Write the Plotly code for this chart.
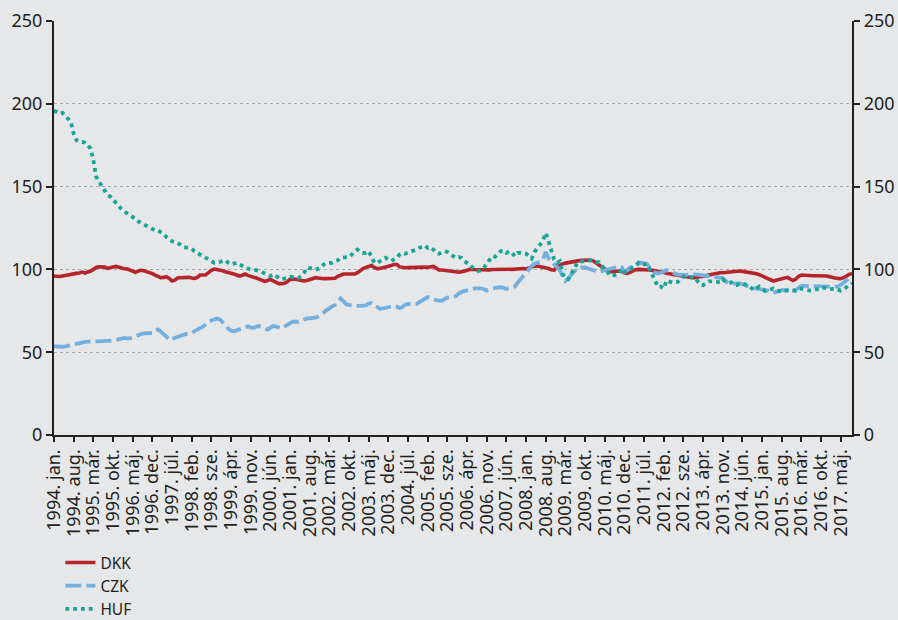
import plotly.graph_objects as go

month_names = ["jan.", "feb.", "már.", "ápr.", "máj.", "jún.", "júl.", "aug.", "sze.", "okt.", "nov.", "dec."]
start_year = 1994
tick_step = 7

dkk = [
    96, 95.8, 95.7, 96, 96.4, 96.8, 97.3, 97.6, 97.6, 97.8, 98.4, 97.8,
    98.3, 99, 100, 101.2, 101.6, 101.6, 101.4, 100.6, 100.8, 101.5, 101.8, 101.2,
    100.6, 100.4, 100.3, 99.5, 98.5, 98.2, 99, 99.5, 99.2, 98.7, 98.2, 97.5,
    96.6, 95.8, 95, 95.2, 95.6, 94.5, 93, 93.5, 94.8, 95, 95.1, 95.2,
    95.2, 94.8, 94.5, 95.2, 96.6, 96.6, 96.8, 98, 99.5, 100.2, 100, 99.6,
    99.2, 98.6, 98.3, 97.8, 97.2, 96.6, 96, 96.5, 97.2, 96.4, 95.6, 95.3,
    94.8, 94.2, 93.5, 92.8, 93.3, 94, 93, 92, 91.4, 91.4, 91.6, 92.5,
    94, 94.2, 94.2, 93.8, 93.3, 93, 93.3, 93.8, 94.5, 95, 94.8, 94.4,
    94.4, 94.4, 94.4, 94.4, 94.6, 95.8, 96.8, 97.2, 97.2, 97.2, 97.2, 97.3,
    98, 99.3, 100.5, 101.2, 102, 102.4, 101.2, 100.4, 100.6, 101, 101.3, 101.6,
    102.3, 103, 103, 101.5, 101, 101, 101.1, 101.2, 101.2, 101.3, 101.6, 101.8,
    101.4, 101.3, 101.7, 101.8, 100.8, 99.7, 99.6, 99.5, 99.3, 99.2, 99, 98.6,
    98.3, 98.4, 98.9, 99.5, 100, 99.9, 99.8, 99.7, 99.6, 99.6, 99.6, 99.7,
    99.9, 100, 100.2, 100.3, 100.4, 100.3, 100.1, 100, 100.2, 100.5, 100.8, 100.5,
    100.2, 100.8, 101.5, 102, 102, 101.7, 101.4, 101.1, 100.5, 99.8, 99.6, 101.5,
    102.6, 103.3, 103.8, 104.2, 104.5, 104.8, 105.1, 105.3, 105.5, 105.6, 105.7, 105.6,
    105, 104, 102.8, 101.5, 100.3, 99.3, 98.6, 98.8, 99, 99.2, 99, 98,
    97.6, 98.2, 99.2, 99.8, 100, 100, 100, 99.8, 99.6, 99.4, 99.2, 99,
    98.6, 98.2, 97.6, 97.3, 97, 96.6, 96.2, 95.8, 95.4, 95.2, 95.2, 95,
    95, 95.2, 95.5, 95.8, 96.2, 96.6, 97, 97.4, 97.8, 98, 98, 98.2,
    98.5, 98.8, 99.1, 99.2, 99, 98.8, 98.6, 98.3, 98, 97.8, 97.4, 96.8,
    96, 95.3, 94.3, 93.3, 93, 93.5, 94, 94.5, 95, 95.2, 94.2, 93.3,
    94.2, 95.8, 96.6, 96.4, 96.3, 96.2, 96.2, 96.2, 96.2, 96.2, 96.2, 96,
    95.6, 95, 94.8, 94.6, 94.4, 95, 96.2, 97, 97.5,
]

czk = [
    53.5, 53.3, 53.2, 53.3, 53.5, 53.8, 54.2, 54.7, 55, 55.4, 55.8, 56.2,
    56.4, 56.5, 56.5, 56.5, 56.5, 56.6, 56.6, 56.6, 56.7, 57, 57.2, 57.8,
    58.4, 58.6, 58.4, 58.2, 58.5, 59.5, 60.4, 61, 61.4, 61.5, 61.2, 61.6,
    63, 63.8, 62.5, 61.3, 59.5, 57.4, 58, 58.8, 59.4, 59.8, 60.5, 61,
    61.2, 61.5, 62.8, 63.6, 64.4, 65.4, 66.8, 68.4, 69.2, 69.8, 70.3, 69.8,
    68.5, 66.5, 64.2, 63, 62.6, 63.2, 63.8, 64.6, 65.4, 65.6, 65, 64.6,
    65.5, 65.8, 65.2, 64.4, 63.6, 64.8, 65.8, 65.5, 65, 64.4, 65.4, 66.4,
    67.5, 68.4, 68.4, 68.4, 69, 69.8, 70.4, 70.4, 70.5, 70.8, 71.5, 72.5,
    74, 75.4, 76.7, 77.7, 78.5, 80, 82.5, 80.3, 79, 78.6, 78.3, 78,
    78, 78, 78, 78.3, 79.4, 79.6, 78.4, 77.3, 76.2, 76.4, 76.9, 77.5,
    77.8, 78, 77.5, 76.7, 77.3, 78.6, 79.1, 79.1, 79.1, 79.1, 80.3, 81.5,
    82.4, 83.3, 83, 82.1, 81.4, 81.2, 81.1, 82, 83, 83.2, 83.5, 83.8,
    85.5, 86.5, 87, 87.3, 87.8, 88.3, 88.6, 88.6, 88.6, 88, 87.2, 87.8,
    88.5, 88.8, 89, 89.2, 88.8, 88.2, 88.6, 89.3, 89.6, 92, 94, 96.2,
    98.5, 100.6, 102, 103.4, 104, 104.5, 106, 110.5, 106.8, 105, 103.5, 101.8,
    99.5, 96, 93, 94.5, 96.6, 98.5, 99.8, 101, 101.2, 101.2, 100.5, 100,
    99.8, 99.2, 98.6, 99, 99.5, 99.8, 100.2, 100.8, 101.2, 101.7, 101.5, 98.5,
    99.5, 101.2, 101.5, 102, 103.5, 104, 103.6, 103.3, 101, 98.8, 98, 97.6,
    98, 98.5, 99.6, 99, 98, 97.5, 96.8, 96.6, 96.6, 96.6, 97, 97.2,
    97, 96.8, 96.6, 96.4, 96.2, 96, 95.8, 95.6, 95.6, 95.4, 94.8, 93,
    91.6, 91.4, 91.5, 91.6, 91.6, 91, 90.4, 89.8, 89.3, 88.6, 88.6, 88.3,
    87.8, 87.6, 87.2, 86.4, 85.8, 86.4, 87.2, 87.5, 87.4, 87.4, 87.5, 87.6,
    87.6, 88.8, 90, 90, 90, 90.1, 90.1, 90, 90, 90, 90, 89.8,
    89.6, 89.4, 89.5, 89.8, 90.6, 92, 93.5, 94.8, 96,
]

huf = [
    196, 195, 194, 194.5, 193, 191, 189, 182, 178, 177, 177, 176.5,
    175, 173, 166, 156, 153, 150, 147, 145, 144, 142, 140, 138.5,
    136.5, 135, 134, 133, 132, 130.5, 129, 128, 127, 126, 125, 124,
    123.5, 123.5, 122.5, 121.5, 119.5, 118, 117, 116.5, 116, 115, 113.5, 113,
    113, 112.5, 111, 110, 108.5, 107.5, 107, 105.5, 104.5, 104, 104, 104.5,
    104.5, 105.5, 104, 103, 103.5, 104, 103, 102, 101.5, 100.5, 100, 100,
    99.5, 99, 98.6, 97.5, 96.5, 96, 97, 96, 95, 94, 94.5, 95,
    95.5, 95.3, 95, 94.8, 96, 98, 101, 101, 100.5, 99.8, 100.5, 101,
    103, 104, 104, 104, 105, 105.5, 107, 107, 107, 107.5, 109, 111,
    112, 110.5, 110, 110, 111, 108, 104, 104, 105, 106.5, 107, 106,
    105, 106, 107, 109, 110, 109.5, 110, 111, 111.5, 112, 113, 114,
    114.5, 113, 113.5, 112, 110, 109.5, 110.5, 111, 110.5, 109, 108, 107,
    107.5, 107, 105, 104, 103, 101, 100, 99, 99.5, 101, 103.5, 106,
    108, 107.7, 109, 111, 111.5, 110, 111, 110, 108, 110, 110, 109.5,
    109.5, 108, 106.5, 110.5, 112.5, 115, 117.5, 122, 117, 112.3, 106, 104,
    105, 97.5, 94.5, 94, 97, 100.5, 103, 104.7, 105, 105.2, 105.7, 105.5,
    104.5, 104.3, 104.3, 102, 100.5, 98.5, 96.2, 96.5, 96.8, 97, 100.5, 98.5,
    99, 100, 101, 102, 104, 103, 103, 103.3, 100, 96, 92, 89.3,
    89.6, 88.5, 93.4, 92.5, 92, 92.2, 92.4, 94, 95.6, 95.6, 95.6, 95.4,
    95.2, 93, 91, 90.5, 92, 92.8, 92.8, 92.8, 92.5, 92.2, 94, 92.6,
    92, 92.2, 90.5, 90.5, 91.5, 91.5, 91, 90.4, 89, 87.6, 88.5, 89.6,
    88.5, 87, 87.5, 88, 88.4, 87.5, 87, 86.4, 87, 87.5, 87.6, 87.3,
    87, 87.7, 88.4, 88, 87.5, 87.2, 87.4, 87.6, 88.2, 88.8, 89, 88.5,
    88, 88.2, 88.4, 87.8, 87.2, 88, 89, 90.2, 91.6,
]

n = len(dkk)
idx = list(range(n))
labels = [f"{start_year + i // 12}. {month_names[i % 12]}" for i in idx]
tickvals = idx[::tick_step]
ticktext = labels[::tick_step]
ytickvals = [0, 50, 100, 150, 200, 250]

BG = "#E6E7E9"
AX = "#231F20"
FONT = "Noto Sans"

fig = go.Figure()
fig.add_trace(go.Scatter(x=idx, y=dkk, name="DKK", mode="lines",
                         line=dict(color="#B5252B", width=3.6)))
fig.add_trace(go.Scatter(x=idx, y=czk, name="CZK", mode="lines",
                         line=dict(color="#74AFDD", width=3.8, dash="16px,5px")))
fig.add_trace(go.Scatter(x=idx, y=huf, name="HUF", mode="lines",
                         line=dict(color="#17A595", width=3.8, dash="3.8px,4px")))
fig.add_trace(go.Scatter(x=[], y=[], yaxis="y2", showlegend=False, hoverinfo="skip"))

fig.update_layout(
    width=898, height=620,
    template="none",
    paper_bgcolor=BG, plot_bgcolor=BG,
    margin=dict(l=54, r=46, t=21, b=185, autoexpand=False),
    font=dict(family=FONT, size=18, color=AX),
    xaxis=dict(
        range=[0, n - 1], tickmode="array", tickvals=tickvals, ticktext=ticktext,
        tickangle=-90, ticks="outside", ticklen=5, tickwidth=1.5, tickcolor=AX,
        showline=True, linecolor=AX, linewidth=2.2, showgrid=False, zeroline=False,
        tickfont=dict(family=FONT, size=18, color=AX), automargin=False,
    ),
    yaxis=dict(
        range=[0, 250], tickvals=ytickvals, ticks="outside", ticklen=6, tickwidth=2,
        tickcolor=AX, showline=True, linecolor=AX, linewidth=2.2,
        showgrid=True, gridcolor="#A7A8AA", gridwidth=1, griddash="dot",
        zeroline=False, tickfont=dict(family=FONT, size=18, color=AX), automargin=False,
    ),
    yaxis2=dict(
        range=[0, 250], tickvals=ytickvals, overlaying="y", side="right",
        ticks="outside", ticklen=6, tickwidth=2, tickcolor=AX,
        showline=True, linecolor=AX, linewidth=2.2, showgrid=False, zeroline=False,
        tickfont=dict(family=FONT, size=18, color=AX), automargin=False,
    ),
    legend=dict(
        x=0.008, y=-0.268, xanchor="left", yanchor="top",
        bgcolor="rgba(0,0,0,0)", font=dict(family=FONT, size=15.5, color=AX),
        tracegroupgap=0, itemwidth=30,
    ),
    showlegend=True,
)

fig.write_html(
    "out.html",
    config={"displayModeBar": False},
    post_script="document.body.style.margin='0';document.body.style.overflow='hidden';",
)
